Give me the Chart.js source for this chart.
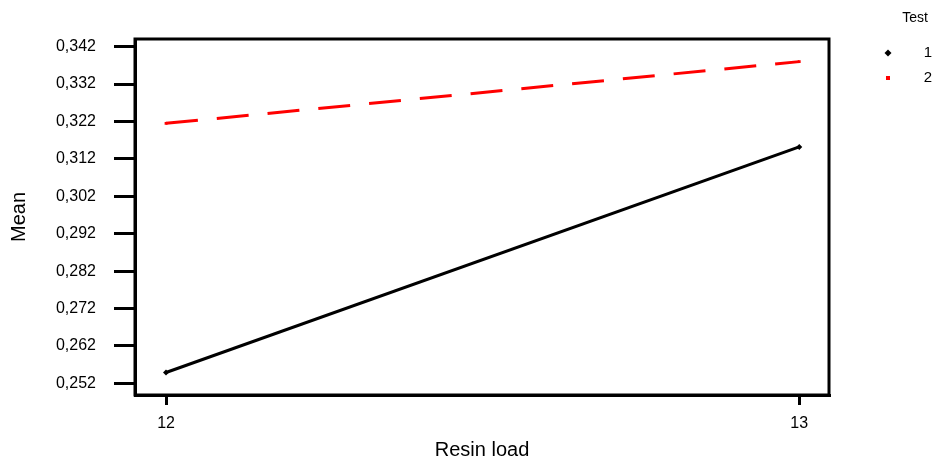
<!DOCTYPE html>
<html>
<head>
<meta charset="utf-8">
<script src="https://cdn.jsdelivr.net/npm/chart.js@4"></script>
<style>
  html, body { margin: 0; padding: 0; background: #fff; }
  #wrap { width: 939px; height: 463px; position: relative; }
</style>
</head>
<body>
<div id="wrap"><canvas id="c" width="939" height="463"></canvas></div>
<script>
// Interaction plot: mean by resin load for each test
const resinLoad = [12, 13];
const xTickLabels = ['12', '13'];
const test1Mean = [0.2549, 0.3152];
const test2Mean = [0.3215, 0.3380];
const seriesNames = ['1', '2'];
const legendTitle = 'Test';
const yTickValues = [0.252, 0.262, 0.272, 0.282, 0.292, 0.302, 0.312, 0.322, 0.332, 0.342];

const FONT = "'Liberation Sans', Arial, sans-serif";

// frame round the plotting area and the legend on the right
const framePlugin = {
  id: 'frame',
  afterDatasetsDraw(chart) {
    const { ctx, chartArea: a } = chart;
    ctx.save();
    ctx.strokeStyle = '#000';
    ctx.lineWidth = 3;
    ctx.strokeRect(a.left, a.top, a.right - a.left, a.bottom - a.top);
    ctx.restore();
  },
  afterDraw(chart) {
    const { ctx } = chart;
    ctx.save();
    ctx.fillStyle = '#000';
    ctx.font = '14px ' + FONT;
    ctx.textAlign = 'center';
    ctx.textBaseline = 'middle';
    ctx.fillText(legendTitle, 915, 18);
    ctx.font = '15px ' + FONT;
    chart.data.datasets.forEach((ds, i) => {
      const y = 53 + i * 25;
      const x = 888;
      ctx.fillStyle = ds.borderColor;
      if (ds.pointStyle === 'rectRot') {
        ctx.beginPath();
        ctx.moveTo(x, y - 3.5);
        ctx.lineTo(x + 3.5, y);
        ctx.lineTo(x, y + 3.5);
        ctx.lineTo(x - 3.5, y);
        ctx.closePath();
        ctx.fill();
      } else {
        ctx.fillRect(x - 2, y - 2, 4, 4);
      }
      ctx.fillStyle = '#000';
      ctx.fillText(ds.label, 928, y);
    });
    ctx.restore();
  }
};

new Chart(document.getElementById('c'), {
  type: 'line',
  data: {
    datasets: [
      {
        label: seriesNames[0],
        data: resinLoad.map((x, i) => ({ x, y: test1Mean[i] })),
        borderColor: '#000000',
        backgroundColor: '#000000',
        borderWidth: 3,
        pointStyle: 'rectRot',
        pointRadius: 3,
        pointBorderWidth: 0,
        fill: false,
        tension: 0
      },
      {
        label: seriesNames[1],
        data: resinLoad.map((x, i) => ({ x, y: test2Mean[i] })),
        borderColor: '#ff0000',
        backgroundColor: '#ff0000',
        borderWidth: 3,
        borderDash: [32, 19],
        pointStyle: 'rect',
        pointRadius: 2,
        pointBorderWidth: 0,
        fill: false,
        tension: 0
      }
    ]
  },
  options: {
    responsive: false,
    animation: false,
    layout: { padding: { top: 39, right: 110, bottom: 0, left: 0 } },
    plugins: { legend: { display: false }, tooltip: { enabled: false } },
    scales: {
      x: {
        type: 'linear',
        min: 11.951,
        max: 13.047,
        afterBuildTicks(scale) { scale.ticks = resinLoad.map(v => ({ value: v })); },
        afterFit(scale) { scale.height = 68; },
        ticks: {
          color: '#000',
          font: { family: FONT, size: 16 },
          padding: 9,
          maxRotation: 0,
          callback(v) { const i = resinLoad.indexOf(v); return i >= 0 ? xTickLabels[i] : ''; }
        },
        grid: { drawOnChartArea: false, drawTicks: true, tickLength: 10, color: '#000', lineWidth: 3 },
        border: { display: true, color: '#000', width: 3 },
        title: {
          display: true,
          text: 'Resin load',
          color: '#000',
          font: { family: FONT, size: 20 },
          padding: { top: 0, bottom: 1 }
        }
      },
      y: {
        type: 'linear',
        min: 0.24888,
        max: 0.34405,
        afterBuildTicks(scale) { scale.ticks = yTickValues.map(v => ({ value: v })); },
        afterFit(scale) { scale.width = 135; },
        ticks: {
          color: '#000',
          font: { family: FONT, size: 16 },
          padding: 18,
          callback(v) { return v.toFixed(3).replace('.', ','); }
        },
        grid: { drawOnChartArea: false, drawTicks: true, tickLength: 21, color: '#000', lineWidth: 3 },
        border: { display: true, color: '#000', width: 3 },
        title: {
          display: true,
          text: 'Mean',
          color: '#000',
          font: { family: FONT, size: 20 },
          padding: { top: 7, bottom: 0 }
        }
      }
    }
  },
  plugins: [framePlugin]
});
</script>
</body>
</html>
